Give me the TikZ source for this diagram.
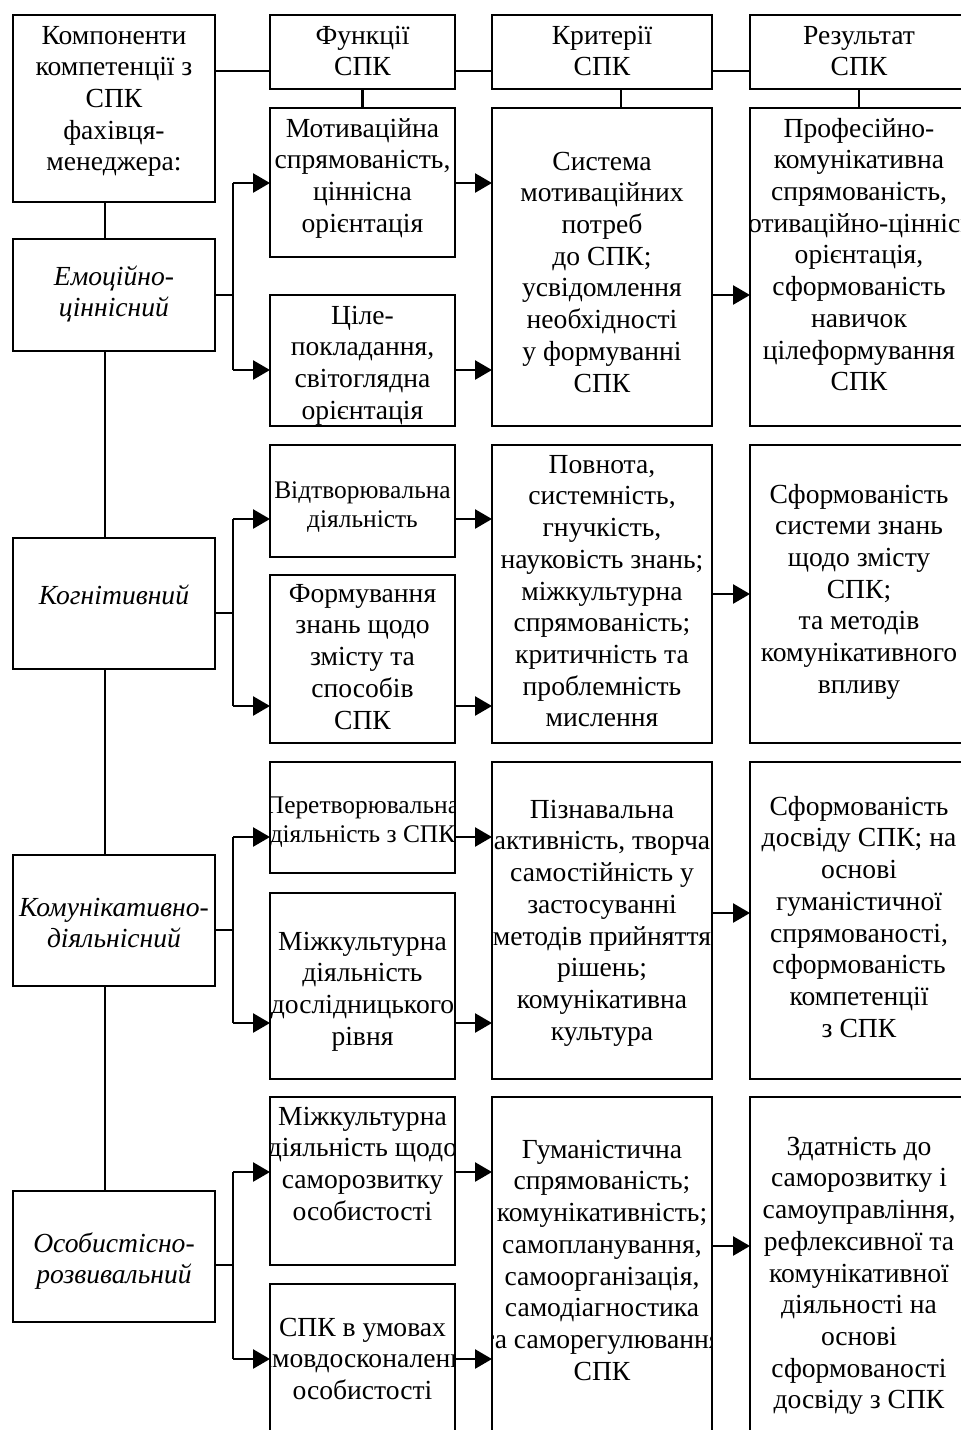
\documentclass[tikz,border=0pt]{standalone}
\usepackage{fontspec}
\setmainfont{Liberation Serif}
\usetikzlibrary{arrows.meta}
\newcommand\fn{\fontsize{27.6}{31.7}\selectfont}
\newcommand\fsm{\fontsize{25.4}{29.2}\selectfont}
\tikzset{
  box/.style={draw, line width=2.6pt, inner sep=0pt, outer sep=0pt, anchor=north west},
  ln/.style={line width=2.6pt},
  arr/.style={line width=2.6pt, -{Triangle[length=17pt,width=19pt]}},
  txt/.style={anchor=north, inner sep=0pt, align=center},
}
% [font] name x1 y1 x2 y2 texttop text
\newcommand\bx[8][\fn]{%
  \begin{scope}
    \clip (#3,#4) rectangle (#5,#6);
    \node[txt, font=#1] (#2-t) at ({(#3+#5)/2},#7) {\strut #8};
  \end{scope}
  \node[box, minimum width={(#5-#3)*1pt}, minimum height={(#6-#4)*1pt}] (#2) at (#3,#4) {};}
\begin{document}
\begin{tikzpicture}[x=1pt,y=-1pt]
\useasboundingbox (0,0) rectangle (961,1430);
\clip (0,0) rectangle (961,1430);
% headers
\bx{h1}{13}{15}{215}{202}{21.8}{Компоненти\\компетенції з\\СПК\\фахівця-\\менеджера:}
\bx{hf}{270}{15}{455}{89}{21.8}{Функції\\СПК}
\bx{hc}{492}{15}{712}{89}{21.8}{Критерії\\СПК}
\bx{hr}{750}{15}{968}{89}{21.8}{Результат\\СПК}
% components
\bx[\fn\itshape]{c1}{13}{239}{215}{351}{262.8}{Емоційно-\\ціннісний}
\bx[\fn\itshape]{c2}{13}{538}{215}{669}{581.8}{Когнітивний}
\bx[\fn\itshape]{c3}{13}{855}{215}{986}{893.8}{Комунікативно-\\діяльнісний}
\bx[\fn\itshape]{c4}{13}{1191}{215}{1322}{1229.8}{Особистісно-\\розвивальний}
% functions
\bx{f1a}{270}{108}{455}{257}{114.8}{Мотиваційна\\спрямованість,\\ціннісна\\орієнтація}
\bx{f1b}{270}{295}{455}{426}{301.8}{Ціле-\\покладання,\\світоглядна\\орієнтація}
\bx[\fsm]{f2a}{270}{445}{455}{557}{477.6}{Відтворювальна\\діяльність}
\bx{f2b}{270}{575}{455}{743}{579.8}{Формування\\знань щодо\\змісту та\\способів\\СПК}
\bx[\fsm]{f3a}{270}{762}{455}{873}{792.6}{Перетворювальна\\діяльність з СПК}
\bx{f3b}{270}{893}{455}{1079}{927.8}{Міжкультурна\\діяльність\\дослідницького\\рівня}
\bx{f4a}{270}{1097}{455}{1265}{1102.8}{Міжкультурна\\діяльність щодо\\саморозвитку\\особистості}
\bx{f4b}{270}{1284}{455}{1450}{1313.8}{СПК в умовах\\самовдосконалення\\особистості}
% criteria
\bx{k1}{492}{108}{712}{426}{147.8}{Система\\мотиваційних\\потреб\\до СПК;\\усвідомлення\\необхідності\\у формуванні\\СПК}
\bx{k2}{492}{445}{712}{743}{450.8}{Повнота,\\системність,\\гнучкість,\\науковість знань;\\міжкультурна\\спрямованість;\\критичність та\\проблемність\\мислення}
\bx{k3}{492}{762}{712}{1079}{795.8}{Пізнавальна\\активність, творча\\самостійність у\\застосуванні\\методів прийняття\\рішень;\\комунікативна\\культура}
\bx{k4}{492}{1097}{712}{1450}{1135.8}{Гуманістична\\спрямованість;\\комунікативність;\\самопланування,\\самоорганізація,\\самодіагностика\\та саморегулювання\\СПК}
% results
\bx{r1}{750}{108}{968}{426}{114.8}{Професійно-\\комунікативна\\спрямованість,\\мотиваційно-ціннісна\\орієнтація,\\сформованість\\навичок\\цілеформування\\СПК}
\bx{r2}{750}{445}{968}{743}{480.8}{Сформованість\\системи знань\\щодо змісту\\СПК;\\та методів\\комунікативного\\впливу}
\bx{r3}{750}{762}{968}{1079}{792.8}{Сформованість\\досвіду СПК; на\\основі\\гуманістичної\\спрямованості,\\сформованість\\компетенції\\з СПК}
\bx{r4}{750}{1097}{968}{1450}{1132.8}{Здатність до\\саморозвитку і\\самоуправління,\\рефлексивної та\\комунікативної\\діяльності на\\основі\\сформованості\\досвіду з СПК}
% helper coordinates
\coordinate (hl) at (0,71);
\coordinate (tr) at (105,0);
\coordinate (vc) at (621,0);
% header line
\draw[ln] (h1.east |- hl) -- (hf.west |- hl);
\draw[ln] (hf.east |- hl) -- (hc.west |- hl);
\draw[ln] (hc.east |- hl) -- (hr.west |- hl);
% header verticals
\draw[ln] (hf.south) -- (f1a.north);
\draw[ln] (hc.south -| vc) -- (k1.north -| vc);
\draw[ln] (hr.south) -- (r1.north);
% trunk
\draw[ln] (h1.south -| tr) -- (c1.north -| tr);
\draw[ln] (c1.south -| tr) -- (c2.north -| tr);
\draw[ln] (c2.south -| tr) -- (c3.north -| tr);
\draw[ln] (c3.south -| tr) -- (c4.north -| tr);
% rows
\foreach \c/\fa/\fb/\k/\r/\ya/\yb/\yj/\ym in {c1/f1a/f1b/k1/r1/183/370/295/295, c2/f2a/f2b/k2/r2/519/706/613/594, c3/f3a/f3b/k3/r3/837/1023/930/913, c4/f4a/f4b/k4/r4/1172/1359/1265/1246}{
  \coordinate (ja) at (233,\ya);
  \coordinate (jb) at (233,\yb);
  \coordinate (jj) at (233,\yj);
  \coordinate (jm) at (0,\ym);
  \draw[ln] (\c.east |- jj) -- (jj);
  \draw[ln] (ja) -- (jb);
  \draw[arr] (ja) -- (\fa.west |- ja);
  \draw[arr] (jb) -- (\fb.west |- jb);
  \draw[arr] (\fa.east |- ja) -- (\k.west |- ja);
  \draw[arr] (\fb.east |- jb) -- (\k.west |- jb);
  \draw[arr] (\k.east |- jm) -- (\r.west |- jm);
}
\end{tikzpicture}
\end{document}
